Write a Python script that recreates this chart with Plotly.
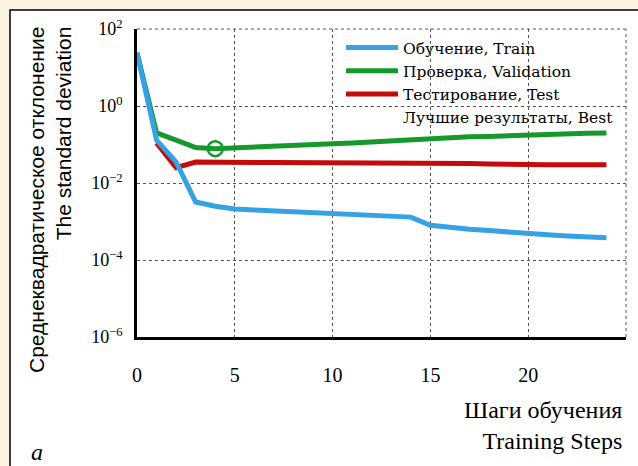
import plotly.graph_objects as go

steps = list(range(25))
train = [24, 0.13, 0.035, 0.0032, 0.0025, 0.0021, 0.0020, 0.0019, 0.0018, 0.0017,
         0.00166, 0.0016, 0.0015, 0.0014, 0.0013, 0.0008, 0.00069, 0.00063, 0.00058,
         0.00052, 0.00048, 0.00045, 0.00042, 0.0004, 0.00038]
validation = [24, 0.2, 0.13, 0.083, 0.078, 0.083, 0.087, 0.093, 0.1, 0.102, 0.105,
              0.11, 0.117, 0.126, 0.135, 0.145, 0.151, 0.158, 0.162, 0.17, 0.178,
              0.182, 0.19, 0.195, 0.2]
test_steps = list(range(1, 25))
test = [0.11, 0.025, 0.035, 0.034, 0.034, 0.034, 0.034, 0.034, 0.034, 0.034, 0.034,
        0.034, 0.034, 0.034, 0.034, 0.034, 0.032, 0.031, 0.030, 0.030, 0.030, 0.030,
        0.030, 0.030]
best_step = [4]
best_value = [0.078]

y_tickvals = [1e-6, 1e-4, 1e-2, 1, 100]
y_ticktext = ["10<sup>−6</sup>", "10<sup>−4</sup>", "10<sup>−2</sup>", "10<sup>0</sup>", "10<sup>2</sup>"]
x_tickvals = [0, 5, 10, 15, 20]

names = ["Обучение, Train", "Проверка, Validation", "Тестирование, Test", "Лучшие результаты, Best"]
BLUE = "#35a2e4"
GREEN = "#16992c"
RED = "#c40a0a"
BEIGE = "#fcf4e1"
FONT = "Liberation Serif"

fig = go.Figure()
fig.add_trace(go.Scatter(x=steps, y=validation, mode="lines", name=names[1],
                         line=dict(color=GREEN, width=5), legendrank=2))
fig.add_trace(go.Scatter(x=test_steps, y=test, mode="lines", name=names[2],
                         line=dict(color=RED, width=5), legendrank=3))
fig.add_trace(go.Scatter(x=steps, y=train, mode="lines", name=names[0],
                         line=dict(color=BLUE, width=5), legendrank=1))
fig.add_trace(go.Scatter(x=best_step, y=best_value, mode="markers", showlegend=False,
                         marker=dict(symbol="circle-open", size=15, color=GREEN,
                                     line=dict(width=2.5, color=GREEN))))
fig.add_trace(go.Scatter(x=[None], y=[None], mode="lines", name=names[3],
                         line=dict(color="rgba(0,0,0,0)", width=5), legendrank=4))

L, R, T, B = 137, 12, 29, 129
W, H = 638, 466
pw, ph = W - L - R, H - T - B


def px(xp):
    return (xp - L) / pw


def py(yp):
    return (H - B - yp) / ph


grid = dict(showgrid=True, gridcolor="#555555", gridwidth=1, griddash="dot",
            showline=True, linecolor="black", linewidth=2.5, zeroline=False,
            ticks="", color="black")

fig.update_layout(
    width=W, height=H, autosize=False,
    margin=dict(l=L, r=R, t=T, b=B),
    paper_bgcolor=BEIGE, plot_bgcolor="white",
    font=dict(family=FONT, color="black"),
    xaxis=dict(range=[0, 25], tickvals=x_tickvals, tickfont=dict(size=20),
               ticklabelstandoff=18, **grid),
    yaxis=dict(type="log", range=[-6, 2], tickvals=y_tickvals, ticktext=y_ticktext,
               tickfont=dict(size=18), ticklabelstandoff=8, **grid),
    legend=dict(x=px(341), y=py(31), xanchor="left", yanchor="top",
                bgcolor="rgba(0,0,0,0)", font=dict(size=15.5, family="DejaVu Serif"),
                itemwidth=52, tracegroupgap=0),
    showlegend=True,
)

# white panel with black left/top border
fig.add_shape(type="rect", xref="paper", yref="paper",
              x0=px(10), x1=px(700), y0=py(520), y1=py(10),
              fillcolor="white", line=dict(color="black", width=1.5), layer="below")
# white area behind the legend (hides gridlines, stays under the curves)
fig.add_shape(type="rect", xref="paper", yref="paper",
              x0=px(338), x1=px(620), y0=py(129), y1=py(31),
              fillcolor="white", line=dict(width=0), layer="between")
# dotted top and right frame
fig.add_shape(type="line", xref="paper", yref="paper", x0=1, x1=1, y0=0, y1=1,
              line=dict(color="#555555", width=1, dash="dot"))
fig.add_shape(type="line", xref="paper", yref="paper", x0=0, x1=1, y0=1, y1=1,
              line=dict(color="#555555", width=1, dash="dot"))

fig.add_annotation(text="Среднеквадратическое отклонение<br>The standard deviation",
                   textangle=-90, align="right", xref="paper", yref="paper",
                   x=px(50), y=py(25), xanchor="center", yanchor="top", showarrow=False,
                   font=dict(size=21, family="Liberation Sans"))
fig.add_annotation(text="Шаги обучения<br>Training Steps", align="right",
                   xref="paper", yref="paper", x=px(624), y=py(426),
                   xanchor="right", yanchor="middle", showarrow=False,
                   font=dict(size=24, family=FONT))
fig.add_annotation(text="<i>a</i>", xref="paper", yref="paper", x=px(37), y=py(452),
                   xanchor="center", yanchor="middle", showarrow=False,
                   font=dict(size=24, family=FONT))

fig.write_html("out.html", config={"displayModeBar": False},
               post_script="document.body.style.margin='0';"
                           "document.body.style.background='" + BEIGE + "';")
